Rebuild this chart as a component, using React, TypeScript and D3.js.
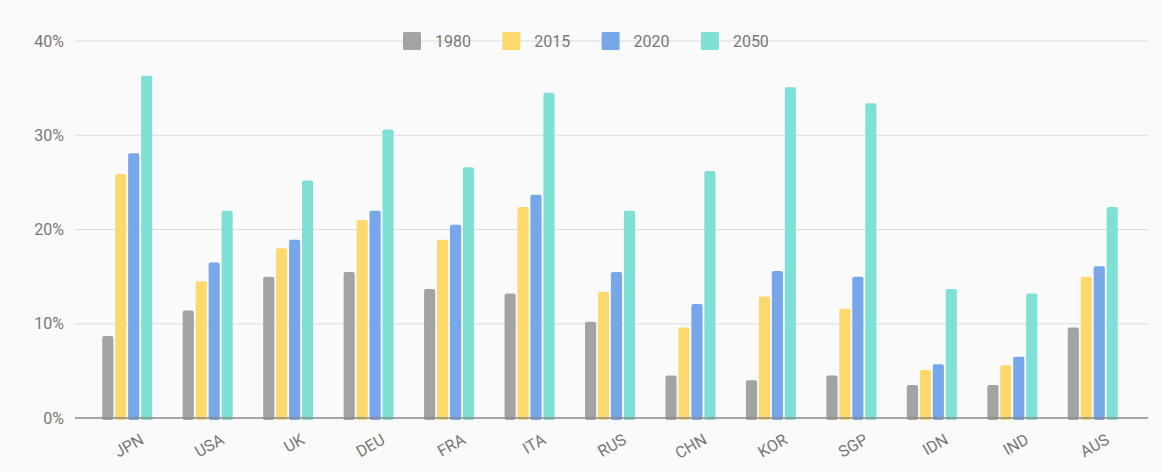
import React from "react";
import * as d3 from "d3";

const countries = ["JPN", "USA", "UK", "DEU", "FRA", "ITA", "RUS", "CHN", "KOR", "SGP", "IDN", "IND", "AUS"];
const years = ["1980", "2015", "2020", "2050"];
const v1980 = [8.7, 11.4, 15.0, 15.5, 13.7, 13.2, 10.2, 4.5, 4.0, 4.5, 3.5, 3.5, 9.6];
const v2015 = [25.9, 14.5, 18.0, 21.0, 18.9, 22.4, 13.4, 9.6, 12.9, 11.6, 5.1, 5.6, 15.0];
const v2020 = [28.1, 16.5, 18.9, 22.0, 20.5, 23.7, 15.5, 12.1, 15.6, 15.0, 5.7, 6.5, 16.1];
const v2050 = [36.3, 22.0, 25.2, 30.6, 26.6, 34.5, 22.0, 26.2, 35.1, 33.4, 13.7, 13.2, 22.4];
const yTicks = [0, 10, 20, 30, 40];
const colors = ["#a3a3a3", "#fdd86d", "#77a7ea", "#7fe0d6"];

const W = 1163;
const H = 472;
const left = 75;
const right = 1148;
const top = 41;
const bottom = 418;

export default function App() {
  const series = [v1980, v2015, v2020, v2050];
  const x = d3.scaleBand<string>().domain(countries).range([87, 1133]).padding(0);
  const inner = d3.scaleBand<string>().domain(years).range([0, 50]).paddingInner(0.14);
  const y = d3.scaleLinear().domain([0, 40]).range([bottom, top]);
  const font = "Roboto, 'Noto Sans', sans-serif";

  return (
    <svg width={W} height={H} style={{ position: "absolute", left: 0, top: 0, background: "#fafafa" }}>
      <rect x={0} y={0} width={W} height={H} fill="#fafafa" />
      {yTicks.map((t) => (
        <g key={t}>
          {t > 0 && <line x1={left} x2={right} y1={y(t)} y2={y(t)} stroke="#dcdcdc" strokeWidth={1} />}
          <text x={64} y={y(t)} dy="0.35em" textAnchor="end" fontSize={16} fill="#777" fontFamily={font}>
            {t}%
          </text>
        </g>
      ))}
      {countries.map((c, i) => {
        const cx = (x(c) as number) + x.bandwidth() / 2;
        const gx = cx - 25;
        return (
          <g key={c}>
            {series.map((s, k) => {
              const bx = gx + (inner(years[k]) as number);
              const by = y(s[i]);
              return (
                <rect
                  key={k}
                  x={bx}
                  y={by}
                  width={inner.bandwidth()}
                  height={bottom - by + 2}
                  rx={2}
                  fill={colors[k]}
                />
              );
            })}
            <text
              transform={`translate(${cx + 12},${bottom + 15}) rotate(-30)`}
              textAnchor="end"
              dy="0.7em"
              fontSize={16}
              fill="#777"
              fontFamily={font}
            >
              {c}
            </text>
          </g>
        );
      })}
      <line x1={left} x2={right} y1={bottom} y2={bottom} stroke="#8a8a8a" strokeWidth={1.5} />
      {years.map((yr, k) => {
        const lx = 403 + k * 99.3;
        return (
          <g key={yr}>
            <rect x={lx} y={top - 9} width={18} height={18} rx={1.5} fill={colors[k]} />
            <text x={lx + 32} y={top} dy="0.35em" fontSize={16} fill="#777" fontFamily={font}>
              {yr}
            </text>
          </g>
        );
      })}
    </svg>
  );
}
